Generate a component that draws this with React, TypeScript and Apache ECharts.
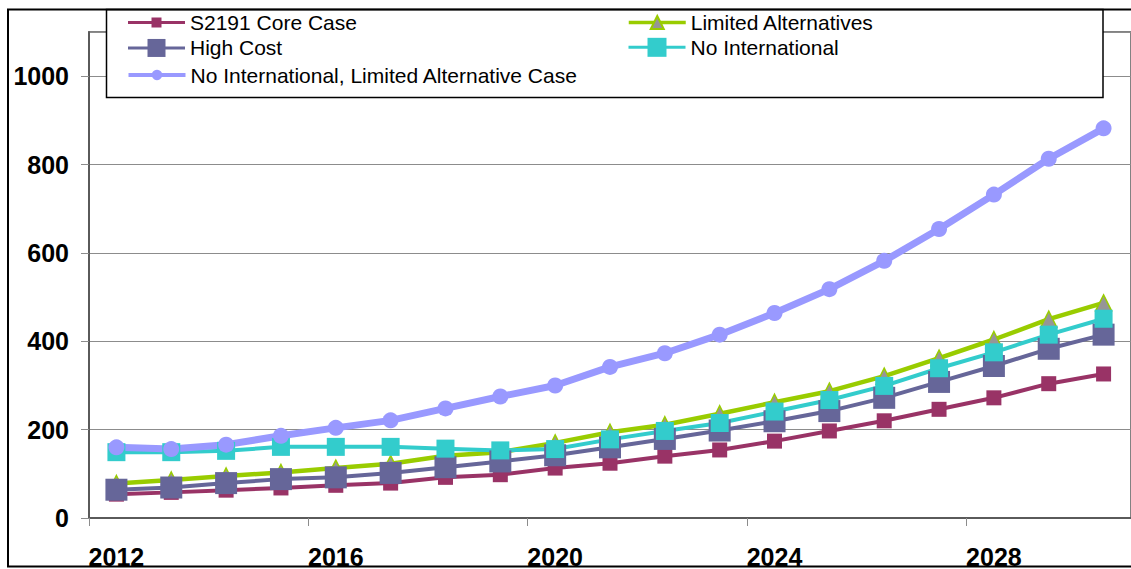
import React, { useEffect, useRef } from "react";
import * as echarts from "echarts";

const years = [
  "2012", "2013", "2014", "2015", "2016", "2017", "2018", "2019", "2020",
  "2021", "2022", "2023", "2024", "2025", "2026", "2027", "2028", "2029", "2030",
];
const coreCase = [54, 58, 63, 68, 74, 79, 92, 98, 113, 124, 140, 154, 174, 197, 220, 246, 272, 304, 326];
const highCost = [64, 69, 79, 88, 92, 102, 115, 128, 142, 160, 179, 198, 219, 242, 272, 308, 344, 383, 415];
const limitedAlt = [78, 86, 95, 103, 113, 123, 141, 149, 170, 194, 211, 236, 262, 287, 321, 362, 404, 450, 487];
const noIntl = [149, 149, 152, 161, 161, 161, 157, 153, 156, 178, 197, 215, 241, 267, 299, 339, 375, 415, 451];
const noIntlLimAlt = [160, 156, 166, 186, 204, 221, 248, 275, 300, 342, 373, 415, 464, 518, 582, 654, 732, 813, 882];

const seriesNames = [
  "S2191 Core Case",
  "Limited Alternatives",
  "High Cost",
  "No International",
  "No International, Limited Alternative Case",
];

const FONT = "'Liberation Sans', Arial, Helvetica, sans-serif";

function legendItem(name: string, left: number, centerY: number, symbolPx: number, lineW: number) {
  const itemHeight = symbolPx / 0.8;
  const h = Math.max(itemHeight, 21);
  return {
    data: [name],
    left,
    top: centerY - h / 2,
    orient: "horizontal",
    padding: 0,
    itemWidth: 57,
    itemHeight,
    selectedMode: false,
    z: 10,
    lineStyle: { width: lineW },
    textStyle: { fontSize: 21, color: "#000", fontFamily: FONT },
  };
}

export default function App() {
  const ref = useRef<HTMLDivElement>(null);
  useEffect(() => {
    const chart = echarts.init(ref.current!, null, { renderer: "svg" });
    const option: any = {
      animation: false,
      backgroundColor: "#fff",
      textStyle: { fontFamily: FONT },
      grid: {
        left: 89,
        top: 32,
        width: 1044,
        height: 487,
        show: true,
        borderColor: "#5a5a5a",
        borderWidth: 1.5,
        backgroundColor: "transparent",
      },
      legend: [
        legendItem(seriesNames[0], 126.5, 22.5, 10, 3),
        legendItem(seriesNames[1], 627, 22.5, 13, 3.5),
        legendItem(seriesNames[2], 126.5, 48.7, 18, 3),
        legendItem(seriesNames[3], 627, 48.7, 19, 3),
        legendItem(seriesNames[4], 126.5, 75, 10.5, 4),
      ],
      xAxis: {
        type: "category",
        data: years,
        boundaryGap: true,
        axisLine: { show: true, lineStyle: { color: "#5a5a5a", width: 2 } },
        axisTick: { show: true, interval: 3, length: 8, lineStyle: { color: "#8c8c8c", width: 1 } },
        axisLabel: {
          interval: 3,
          margin: 26,
          fontSize: 25,
          fontWeight: "bold",
          color: "#000",
          fontFamily: FONT,
        },
        splitLine: { show: false },
      },
      yAxis: {
        type: "value",
        min: 0,
        max: 1100,
        interval: 200,
        axisLine: { show: true, lineStyle: { color: "#5a5a5a", width: 2 } },
        axisTick: { show: true, length: 8, lineStyle: { color: "#8c8c8c", width: 1 } },
        axisLabel: {
          showMaxLabel: false,
          margin: 20,
          fontSize: 25,
          fontWeight: "bold",
          color: "#000",
          fontFamily: FONT,
          formatter: (v: number) => String(v),
        },
        splitLine: { show: true, lineStyle: { color: "#8c8c8c", width: 1 } },
      },
      series: [
        {
          name: seriesNames[0],
          type: "line",
          data: coreCase,
          symbol: "rect",
          symbolSize: 15,
          showAllSymbol: true,
          lineStyle: { color: "#993366", width: 4 },
          itemStyle: { color: "#993366" },
          emphasis: { disabled: true },
        },
        {
          name: seriesNames[1],
          type: "line",
          data: limitedAlt,
          symbol: "triangle",
          symbolSize: 16,
          showAllSymbol: true,
          lineStyle: { color: "#99CC00", width: 4.5 },
          itemStyle: { color: "#969696", borderColor: "#99CC00", borderWidth: 1.5 },
          emphasis: { disabled: true },
        },
        {
          name: seriesNames[2],
          type: "line",
          data: highCost,
          symbol: "rect",
          symbolSize: 22,
          showAllSymbol: true,
          lineStyle: { color: "#666699", width: 4 },
          itemStyle: { color: "#666699" },
          emphasis: { disabled: true },
        },
        {
          name: seriesNames[3],
          type: "line",
          data: noIntl,
          symbol: "rect",
          symbolSize: 18,
          showAllSymbol: true,
          lineStyle: { color: "#33CCCC", width: 4 },
          itemStyle: { color: "#33CCCC" },
          emphasis: { disabled: true },
        },
        {
          name: seriesNames[4],
          type: "line",
          data: noIntlLimAlt,
          symbol: "circle",
          symbolSize: 16,
          showAllSymbol: true,
          lineStyle: { color: "#9999FF", width: 7 },
          itemStyle: { color: "#9999FF" },
          emphasis: { disabled: true },
        },
      ],
      graphic: [
        {
          type: "rect",
          z: 5,
          shape: { x: 106.5, y: 9.5, width: 996.5, height: 88 },
          style: { fill: "#fff", stroke: "#000", lineWidth: 1.5 },
        },
        {
          type: "rect",
          z: 20,
          shape: { x: 8, y: 9.5, width: 1140, height: 557 },
          style: { fill: "none", stroke: "#000", lineWidth: 2 },
        },
      ],
    };
    chart.setOption(option);
    return () => chart.dispose();
  }, []);
  return (
    <div
      ref={ref}
      style={{ position: "absolute", left: 0, top: 0, width: 1131, height: 569, background: "#fff" }}
    />
  );
}
